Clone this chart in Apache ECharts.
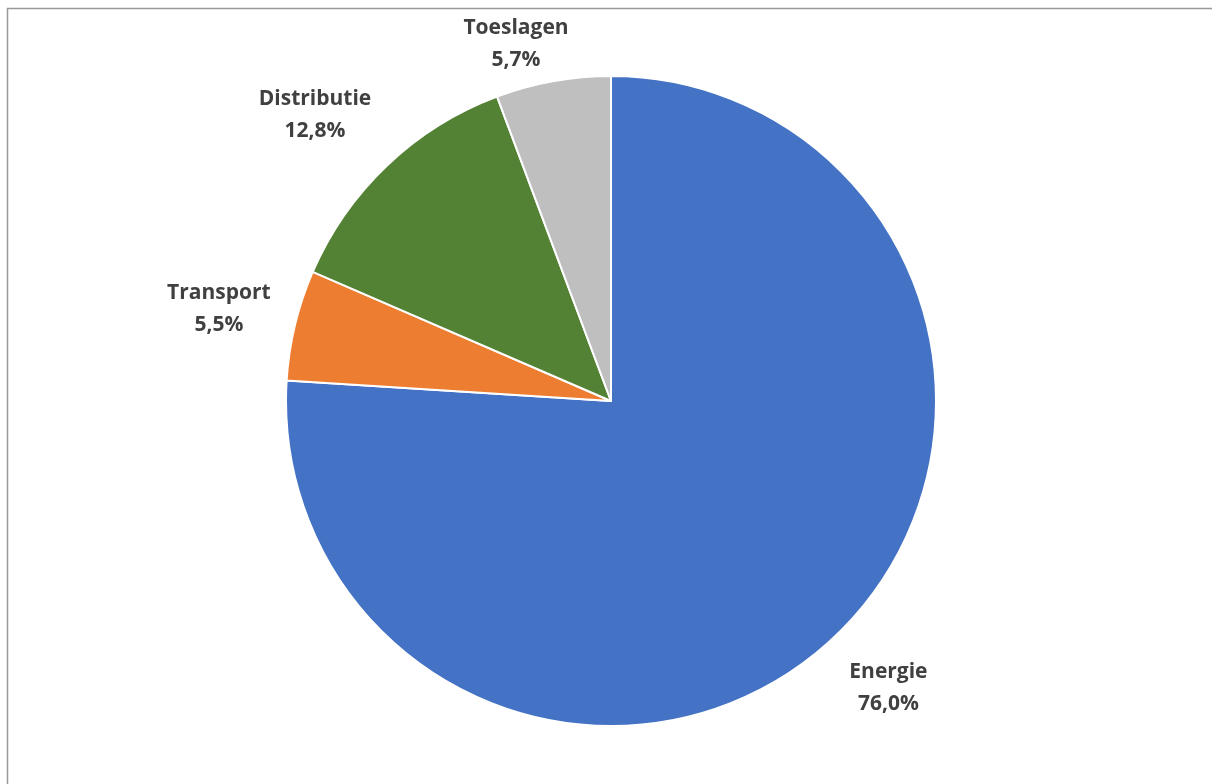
<!DOCTYPE html>
<html>
<head>
<meta charset="utf-8">
<script src="https://cdn.jsdelivr.net/npm/echarts@6/dist/echarts.min.js"></script>
<style>
  html, body { margin: 0; padding: 0; background: #fff; }
  #chart { width: 1212px; height: 784px; }
</style>
</head>
<body>
<div id="chart"></div>
<script>
const categories = ['Energie', 'Transport', 'Distributie', 'Toeslagen'];
const shares = [76.0, 5.5, 12.8, 5.7];
const colors = ['#4472C4', '#ED7D31', '#548235', '#BFBFBF'];

const cx = 611, cy = 401, radius = 325;

// mid angle of each slice, clockwise from 12 o'clock
const total = shares.reduce((a, b) => a + b, 0);
let acc = 0;
const midAngles = shares.map(v => {
  const mid = (acc + v / 2) / total * Math.PI * 2;
  acc += v;
  return mid;
});

const clamp1 = v => Math.max(-1, Math.min(1, v));

const chart = echarts.init(document.getElementById('chart'));

chart.setOption({
  animation: false,
  graphic: [{
    type: 'rect',
    shape: { x: 7.5, y: 8.5, width: 1300, height: 900 },
    style: { fill: 'none', stroke: '#999', lineWidth: 1.5 }
  }],
  series: [{
    type: 'pie',
    center: [cx, cy],
    radius: radius,
    startAngle: 90,
    clockwise: true,
    itemStyle: { borderColor: '#fff', borderWidth: 2 },
    label: {
      show: true,
      position: 'outside',
      fontFamily: 'Open Sans',
      fontWeight: 'bold',
      fontSize: 21,
      lineHeight: 32,
      color: '#404040',
      formatter: p => p.name + '\n' + p.value.toFixed(1).replace('.', ',') + '%'
    },
    labelLine: { show: false },
    labelLayout: params => {
      // Excel-like "outside end": box corner sits a little outside the rim
      const a = midAngles[params.dataIndex];
      const ux = Math.sin(a), uy = -Math.cos(a);
      const w = params.labelRect.width, h = params.labelRect.height;
      const d = radius + 25;
      let x = cx + ux * d + w / 2 * clamp1(ux * Math.SQRT2);
      let y = cy + uy * d + h / 2 * clamp1(uy * Math.SQRT2);
      const top = 12;
      if (y - h / 2 < top) {
        const dy = top + h / 2 - y;
        y += dy;
        x += dy * Math.sign(ux);
      }
      return { x: x, y: y, align: 'center', verticalAlign: 'middle' };
    },
    data: categories.map((name, i) => ({
      name: name,
      value: shares[i],
      itemStyle: { color: colors[i] }
    }))
  }]
});
</script>
</body>
</html>
